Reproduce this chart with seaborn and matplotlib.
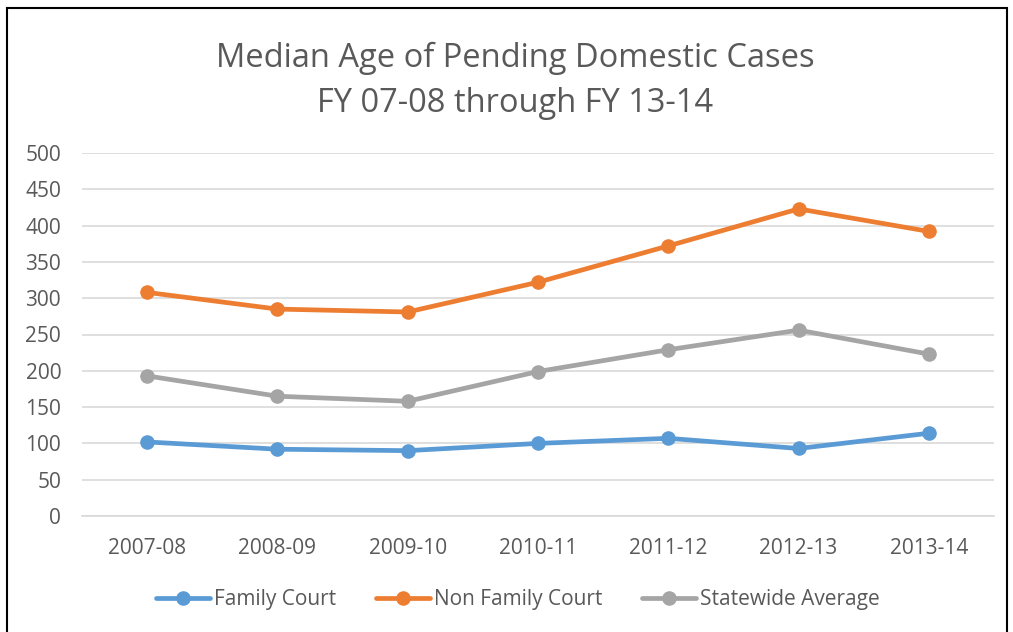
import matplotlib

matplotlib.use("Agg")
import matplotlib.pyplot as plt
import pandas as pd
import seaborn as sns
from matplotlib.patches import Rectangle

# Data
years = ["2007-08", "2008-09", "2009-10", "2010-11", "2011-12", "2012-13", "2013-14"]
family_court = [102, 92, 90, 100, 107, 93, 114]
non_family_court = [308, 285, 281, 322, 372, 423, 392]
statewide_average = [193, 165, 158, 199, 229, 256, 223]

series_names = ["Family Court", "Non Family Court", "Statewide Average"]
colors = ["#5b9bd5", "#ed7d31", "#a5a5a5"]

df = pd.DataFrame(
    {
        "year": years * 3,
        "value": family_court + non_family_court + statewide_average,
        "series": [s for s in series_names for _ in years],
    }
)

sns.set_theme(style="white")
plt.rcParams["font.family"] = ["Open Sans", "DejaVu Sans"]
text_color = "#595959"

fig = plt.figure(figsize=(10.13, 6.32), dpi=100)
ax = fig.add_axes([82 / 1013, 116 / 632, 912 / 1013, 363 / 632])

sns.lineplot(
    data=df,
    x="year",
    y="value",
    hue="series",
    hue_order=series_names,
    palette=colors,
    marker="o",
    markersize=10.5,
    markeredgewidth=0,
    linewidth=3.4,
    sort=False,
    ax=ax,
    legend=False,
)

ax.set_xlim(-0.5, len(years) - 0.5)
ax.set_ylim(0, 500)
ax.set_yticks(range(0, 501, 50))
ax.yaxis.grid(True, color="#d9d9d9", linewidth=1.2)
ax.set_axisbelow(True)
for side in ["top", "right", "left"]:
    ax.spines[side].set_visible(False)
ax.spines["bottom"].set_color("#d9d9d9")
ax.spines["bottom"].set_linewidth(1.2)
ax.tick_params(axis="both", length=0, labelsize=15, colors=text_color)
ax.tick_params(axis="y", pad=15)
ax.tick_params(axis="x", pad=16)
ax.set_xlabel("")
ax.set_ylabel("")

fig.text(
    515 / 1013,
    1 - 81 / 632,
    "Median Age of Pending Domestic Cases\nFY 07-08 through FY 13-14",
    ha="center",
    va="center",
    fontsize=23.5,
    color=text_color,
    linespacing=1.45,
)

handles = [
    plt.Line2D([], [], color=c, marker="o", markersize=10.5, markeredgewidth=0, linewidth=3.4)
    for c in colors
]
fig.legend(
    handles,
    series_names,
    loc="center",
    bbox_to_anchor=(518 / 1013, 1 - 600 / 632),
    ncol=3,
    frameon=False,
    fontsize=15,
    labelcolor=text_color,
    handlelength=2.6,
    handletextpad=0.2,
    columnspacing=1.9,
)

fig.patches.append(
    Rectangle(
        (7 / 1013, -0.05),
        1000 / 1013,
        1 - 8 / 632 + 0.05,
        transform=fig.transFigure,
        fill=False,
        edgecolor="black",
        linewidth=1.5,
    )
)

fig.savefig("out.png", dpi=100)
